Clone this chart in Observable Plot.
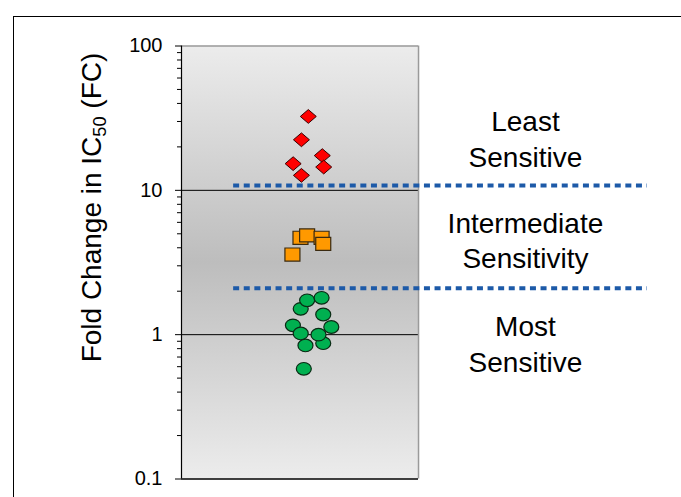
<!DOCTYPE html>
<html>
<head>
<meta charset="utf-8">
<script src="https://cdn.jsdelivr.net/npm/d3@7"></script>
<script src="https://cdn.jsdelivr.net/npm/@observablehq/plot@0.6"></script>
<style>
  html, body { margin: 0; padding: 0; background: #ffffff; overflow: hidden; }
  #wrap { position: relative; width: 681px; height: 497px; }
  #slide { position: absolute; left: 13px; top: 16px; right: -20px; bottom: -20px; border-left: 1px solid #000; border-top: 1px solid #000; }
  #chart { position: absolute; left: 0; top: 0; }
</style>
</head>
<body>
<div id="wrap"><div id="slide"></div><div id="chart"></div></div>
<script>
// ---- data ----
const yLabel = "Fold Change in IC50 (FC)";
const majorTicks = [0.1, 1, 10, 100];
const majorTickLabels = ["0.1", "1", "10", "100"];
const minorTicks = [0.2, 0.3, 0.4, 0.5, 0.6, 0.7, 0.8, 0.9, 2, 3, 4, 5, 6, 7, 8, 9, 20, 30, 40, 50, 60, 70, 80, 90];
const gridValues = [1, 10];
const thresholds = [10.8, 2.1];

// Least sensitive (red diamonds)
const leastX = [0.535, 0.506, 0.594, 0.471, 0.600, 0.506];
const leastFC = [32.5, 22.4, 17.4, 15.3, 14.5, 12.7];
// Intermediate (orange squares)
const interX = [0.502, 0.530, 0.591, 0.598, 0.468];
const interFC = [4.69, 4.87, 4.69, 4.26, 3.59];
// Most sensitive (green circles)
const mostX = [0.503, 0.530, 0.591, 0.598, 0.470, 0.632, 0.503, 0.598, 0.578, 0.523, 0.516];
const mostFC = [1.51, 1.73, 1.80, 1.38, 1.16, 1.13, 1.02, 0.873, 1.00, 0.842, 0.58];

const regionNames = ["Least\nSensitive", "Intermediate\nSensitivity", "Most\nSensitive"];
const regionFC = [23.1, 4.60, 0.88];

// ---- helpers ----
const toRows = (xs, ys) => xs.map((x, i) => ({x, y: ys[i]}));
const least = toRows(leastX, leastFC);
const inter = toRows(interX, interFC);
const most = toRows(mostX, mostFC);
const regions = regionNames.map((t, i) => ({t, y: regionFC[i]}));

const diamond = {draw(ctx, size) {
  const r = Math.sqrt(size / Math.PI), h = r * 0.86;
  ctx.moveTo(0, -h); ctx.lineTo(r, 0); ctx.lineTo(0, h); ctx.lineTo(-r, 0); ctx.closePath();
}};
const rectSym = {draw(ctx, size) {
  const r = Math.sqrt(size / Math.PI), h = r * 0.87;
  ctx.moveTo(-r, -h); ctx.lineTo(r, -h); ctx.lineTo(r, h); ctx.lineTo(-r, h); ctx.closePath();
}};
const ellipse = {draw(ctx, size) {
  const a = Math.sqrt(size / Math.PI), b = a * 0.84, k = 0.5523;
  ctx.moveTo(a, 0);
  ctx.bezierCurveTo(a, b * k, a * k, b, 0, b);
  ctx.bezierCurveTo(-a * k, b, -a, b * k, -a, 0);
  ctx.bezierCurveTo(-a, -b * k, -a * k, -b, 0, -b);
  ctx.bezierCurveTo(a * k, -b, a, -b * k, a, 0);
  ctx.closePath();
}};

const font = "'Liberation Sans', Arial, sans-serif";

const plot = Plot.plot({
  width: 681,
  height: 497,
  marginTop: 45.5,
  marginBottom: 18.5,
  marginLeft: 181,
  marginRight: 34,
  style: {fontFamily: font, fontSize: "20px", background: "transparent", color: "#000"},
  x: {domain: [0, 1.966], axis: null},
  y: {type: "log", domain: [0.1, 100], label: null},
  marks: [
    Plot.rect([0], {x1: 0, x2: 1, y1: 0.1, y2: 100, fill: "url(#bgGrad)"}),
    Plot.ruleY(gridValues, {x1: 0, x2: 1, stroke: "#000", strokeWidth: 1}),
    Plot.ruleY([100], {x1: 0, x2: 1, stroke: "#9a9a9a", strokeWidth: 1.5}),
    Plot.ruleX([1], {y1: 0.1, y2: 100, stroke: "#9a9a9a", strokeWidth: 1.5}),
    Plot.ruleX([0], {y1: 0.1, y2: 100, stroke: "#000", strokeWidth: 1.2}),
    Plot.ruleY([0.1], {x1: 0, x2: 1, stroke: "#000", strokeWidth: 1.5}),
    Plot.axisY({ticks: minorTicks, tickFormat: () => "", tickSize: 4, stroke: "#000", label: null}),
    Plot.axisY({ticks: majorTicks, tickFormat: d => majorTickLabels[majorTicks.indexOf(d)], tickSize: 6, tickPadding: 13, fontSize: 20, stroke: "#000", fill: "#000", label: null}),
    Plot.ruleY(thresholds, {x1: 0.22, x2: 1.966, stroke: "#1d5aa8", strokeWidth: 4, strokeDasharray: "6,4.6"}),
    Plot.dot(least, {x: "x", y: "y", symbol: diamond, r: 8, fill: "#ff0000", stroke: "#3a0000", strokeWidth: 1}),
    Plot.dot(inter, {x: "x", y: "y", symbol: rectSym, r: 7.5, fill: "#ff9900", stroke: "#3a2a10", strokeWidth: 1.2}),
    Plot.dot(most, {x: "x", y: "y", symbol: ellipse, r: 7.5, fill: "#00b050", stroke: "#0a2a14", strokeWidth: 1.2}),
    Plot.text(regions, {x: 1.451, y: "y", text: "t", fontSize: 28, lineHeight: 1.28, lineAnchor: "middle", textAnchor: "middle", fill: "#000"}),
    Plot.text([yLabel], {frameAnchor: "left", dx: -81, dy: -55, rotate: -90, textAnchor: "middle", lineAnchor: "bottom", fontSize: 28, fill: "#000"})
  ]
});

const svg = d3.select(plot);

// larger tick labels on the y axis
svg.selectAll("text").filter(function() { return majorTickLabels.includes(this.textContent); })
  .attr("font-size", 20);
svg.selectAll("g[aria-label='y-axis tick label']").attr("font-size", 20);

// gradient definition for the plot-area background
const defs = svg.insert("defs", ":first-child");
const grad = defs.append("linearGradient").attr("id", "bgGrad").attr("x1", 0).attr("y1", 0).attr("x2", 0).attr("y2", 1);
grad.append("stop").attr("offset", "0%").attr("stop-color", "#ececec");
grad.append("stop").attr("offset", "50%").attr("stop-color", "#bdbdbd");
grad.append("stop").attr("offset", "100%").attr("stop-color", "#ececec");

// subscript "50" in the axis title
svg.selectAll("text").filter(function() { return this.textContent === yLabel; }).each(function() {
  const t = d3.select(this);
  t.text(null);
  t.append("tspan").text("Fold Change in IC");
  t.append("tspan").attr("font-size", "0.65em").attr("dy", "5").text("50");
  t.append("tspan").attr("dy", "-5").text(" (FC)");
});

document.getElementById("chart").appendChild(plot);
</script>
</body>
</html>
